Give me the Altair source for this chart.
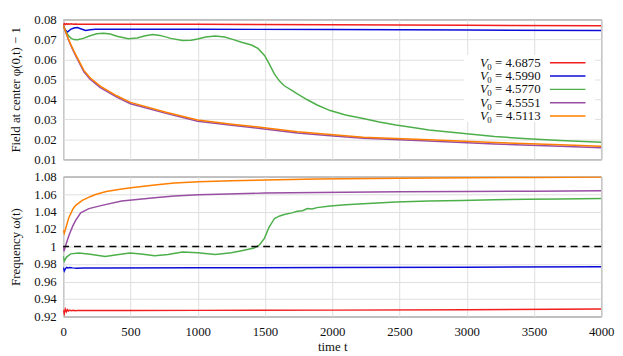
import altair as alt
import pandas as pd

FONT = "Liberation Serif, Times New Roman, DejaVu Serif, serif"
V0 = ["4.6875", "4.5990", "4.5770", "4.5551", "4.5113"]
COLORS = ["#f21d1d", "#0c0cd9", "#4daf4a", "#984ea3", "#ff7f00"]

X_TICKS = [0, 500, 1000, 1500, 2000, 2500, 3000, 3500, 4000]
PHI_TICKS = [0.01, 0.02, 0.03, 0.04, 0.05, 0.06, 0.07, 0.08]
OMEGA_TICKS = [0.92, 0.94, 0.96, 0.98, 1.0, 1.02, 1.04, 1.06, 1.08]

# ---- top panel: field at center phi(0,t) - 1 ----
t_phi_red = [0, 8, 16, 24, 32, 40, 50, 60, 75, 90, 110, 150, 300, 1000, 2000, 3000, 4000]
phi_red = [0.0772, 0.0779, 0.0774, 0.0779, 0.0775, 0.0778, 0.0776, 0.0778, 0.0776, 0.0777,
           0.0776, 0.0776, 0.0776, 0.0776, 0.0773, 0.0771, 0.0768]

t_phi_blue = [0, 15, 32, 55, 80, 105, 135, 166, 200, 240, 300, 500, 1000, 2000, 3000, 4000]
phi_blue = [0.0772, 0.0748, 0.0737, 0.0750, 0.0757, 0.0759, 0.0752, 0.0745, 0.0748, 0.0751,
            0.0751, 0.0751, 0.0751, 0.0749, 0.0747, 0.0744]

t_phi_green = [0, 20, 40, 60, 81, 105, 150, 200, 250, 300, 350, 400, 484, 550, 610, 667, 720,
               800, 887, 950, 1000, 1060, 1131, 1200, 1260, 1326, 1400, 1448, 1497, 1530, 1571,
               1610, 1644, 1700, 1741, 1815, 1888, 1985, 2100, 2230, 2350, 2474, 2600, 2719,
               2850, 2963, 3207, 3451, 3695, 4000]
phi_green = [0.0772, 0.0740, 0.0718, 0.0705, 0.0699, 0.0698, 0.0705, 0.0718, 0.0728, 0.0731,
             0.0727, 0.0716, 0.0703, 0.0707, 0.0718, 0.0724, 0.0720, 0.0705, 0.0695, 0.0696,
             0.0702, 0.0712, 0.0717, 0.0712, 0.0700, 0.0686, 0.0672, 0.0655, 0.0620, 0.0580,
             0.0526, 0.0490, 0.0468, 0.0445, 0.0427, 0.0398, 0.0372, 0.0344, 0.0322, 0.0304,
             0.0287, 0.0272, 0.0259, 0.0247, 0.0238, 0.0231, 0.0214, 0.0203, 0.0194, 0.0186]

t_phi_purple = [0, 20, 40, 60, 80, 100, 154, 200, 276, 398, 500, 764, 1000, 1253, 1449, 1741,
                1985, 2230, 2719, 3207, 3695, 4000]
phi_purple = [0.0772, 0.0733, 0.0697, 0.0665, 0.0636, 0.0608, 0.0538, 0.0501, 0.0459, 0.0411,
              0.0378, 0.0330, 0.0291, 0.0270, 0.0256, 0.0232, 0.0218, 0.0205, 0.0192, 0.0177,
              0.0165, 0.0158]

t_phi_orange = [0, 20, 40, 60, 80, 100, 154, 200, 276, 398, 500, 764, 1000, 1253, 1449, 1741,
                1985, 2230, 2719, 3207, 3695, 4000]
phi_orange = [0.0772, 0.0735, 0.0700, 0.0669, 0.0641, 0.0615, 0.0545, 0.0508, 0.0466, 0.0418,
              0.0385, 0.0336, 0.0297, 0.0276, 0.0262, 0.0238, 0.0224, 0.0211, 0.0198, 0.0184,
              0.0173, 0.0165]

# ---- bottom panel: frequency omega(t) ----
t_om_red = [0, 8, 16, 24, 32, 40, 50, 60, 75, 90, 110, 150, 500, 1000, 2000, 3000, 4000]
om_red = [0.9275, 0.9232, 0.9285, 0.9255, 0.9278, 0.9262, 0.9274, 0.9265, 0.9272, 0.9267,
          0.9270, 0.9268, 0.9268, 0.9270, 0.9273, 0.9277, 0.9285]

t_om_blue = [0, 8, 16, 25, 35, 50, 70, 100, 150, 300, 1000, 2000, 3000, 4000]
om_blue = [0.9760, 0.9720, 0.9745, 0.9762, 0.9755, 0.9760, 0.9756, 0.9752, 0.9754, 0.9755,
           0.9757, 0.9760, 0.9764, 0.9769]

t_om_green = [0, 8, 25, 56, 117, 200, 313, 400, 496, 580, 680, 780, 887, 1000, 1131, 1250,
              1326, 1420, 1460, 1497, 1530, 1571, 1610, 1644, 1700, 1741, 1780, 1815, 1850,
              1888, 1985, 2100, 2230, 2474, 2719, 2963, 3207, 3451, 3695, 4000]
om_green = [0.9890, 0.9833, 0.9880, 0.9916, 0.9927, 0.9912, 0.9885, 0.9905, 0.9925, 0.9915,
            0.9895, 0.9910, 0.9938, 0.9930, 0.9908, 0.9930, 0.9953, 0.9983, 1.0020, 1.0096,
            1.0220, 1.0321, 1.0350, 1.0366, 1.0385, 1.0403, 1.0410, 1.0434, 1.0430, 1.0445,
            1.0464, 1.0478, 1.0490, 1.0509, 1.0520, 1.0527, 1.0535, 1.0540, 1.0543, 1.0550]

t_om_purple = [0, 6, 20, 44, 70, 93, 130, 191, 289, 435, 680, 826, 1008, 1497, 1888, 2500,
               3000, 3500, 4000]
om_purple = [1.0000, 0.9946, 1.0020, 1.0133, 1.0230, 1.0300, 1.0385, 1.0434, 1.0471, 1.0520,
             1.0558, 1.0577, 1.0592, 1.0611, 1.0618, 1.0626, 1.0630, 1.0633, 1.0638]

t_om_orange = [0, 8, 25, 40, 56, 75, 93, 142, 200, 240, 320, 435, 520, 680, 826, 1008, 1250,
               1497, 1888, 2500, 3000, 3500, 4000]
om_orange = [1.0189, 1.0152, 1.0240, 1.0320, 1.0377, 1.0435, 1.0471, 1.0527, 1.0570, 1.0595,
             1.0630, 1.0659, 1.0675, 1.0704, 1.0727, 1.0742, 1.0752, 1.0760, 1.0772, 1.0782,
             1.0786, 1.0790, 1.0794]


def long_df(pairs):
    frames = []
    for name, (ts, vs) in zip(V0, pairs):
        frames.append(pd.DataFrame({"t": ts, "v": vs, "series": name}))
    return pd.concat(frames, ignore_index=True)


df_phi = long_df([(t_phi_red, phi_red), (t_phi_blue, phi_blue), (t_phi_green, phi_green),
                  (t_phi_purple, phi_purple), (t_phi_orange, phi_orange)])
df_om = long_df([(t_om_red, om_red), (t_om_blue, om_blue), (t_om_green, om_green),
                 (t_om_purple, om_purple), (t_om_orange, om_orange)])
df_leg = pd.DataFrame({"series": V0, "rank": list(range(len(V0)))})

W, H = 546, 142
color = alt.Color("series:N", scale=alt.Scale(domain=V0, range=COLORS), legend=None)
xscale = alt.Scale(domain=[0, 4000], nice=False, zero=False)

# ---- top ----
y_phi = alt.Scale(domain=[0.01, 0.08], nice=False, zero=False)
y_phi_axis = alt.Axis(values=PHI_TICKS, format=".2f",
                      title="Field at center φ(0,t) − 1", titlePadding=12)
top_lines = alt.Chart(df_phi).mark_line(strokeWidth=1.5, clip=True).encode(
    x=alt.X("t:Q", scale=xscale,
            axis=alt.Axis(values=X_TICKS, labels=False, title=None)),
    y=alt.Y("v:Q", scale=y_phi, axis=y_phi_axis),
    color=color,
)

leg_bg = alt.Chart(alt.Data(values=[{"k": 1}])).mark_rect(fill="white", stroke=None).encode(
    x=alt.value(407), x2=alt.value(540), y=alt.value(36), y2=alt.value(104)
)

leg_base = alt.Chart(df_leg).transform_calculate(
    ly="0.08 - (44 + datum.rank * 13.5) / 142 * 0.07",
    lab="'= ' + datum.series",
)
leg_y = alt.Y("ly:Q", scale=y_phi, axis=y_phi_axis)
leg_rules = leg_base.mark_rule(strokeWidth=1.5).encode(
    x=alt.value(494), x2=alt.value(530), y=leg_y, color=color
)
leg_num = leg_base.mark_text(align="right", baseline="middle", font=FONT, fontSize=13,
                             color="#111").encode(x=alt.value(484.5), y=leg_y, text="lab:N")
leg_sub = leg_base.mark_text(align="right", baseline="middle", font=FONT, fontSize=9, dy=4,
                             color="#111").encode(x=alt.value(434.8), y=leg_y,
                                                  text=alt.value("0"))
leg_v = leg_base.mark_text(align="right", baseline="middle", font=FONT, fontSize=13,
                           fontStyle="italic", color="#111").encode(
    x=alt.value(431), y=leg_y, text=alt.value("V"))

top = alt.layer(top_lines, leg_bg, leg_rules, leg_num, leg_sub, leg_v).properties(
    width=W, height=H)

# ---- bottom ----
y_om = alt.Scale(domain=[0.92, 1.08], nice=False, zero=False)
y_om_axis = alt.Axis(values=OMEGA_TICKS,
                     labelExpr="datum.value == 1 ? '1' : format(datum.value, '.2f')",
                     title="Frequency ω(t)", titlePadding=12)
bot_lines = alt.Chart(df_om).mark_line(strokeWidth=1.5, clip=True).encode(
    x=alt.X("t:Q", scale=xscale,
            axis=alt.Axis(values=X_TICKS, format="d", title="time t",
                          labelPadding=9, titlePadding=2)),
    y=alt.Y("v:Q", scale=y_om, axis=y_om_axis),
    color=color,
)
unity = alt.Chart(pd.DataFrame({"y": [1.0]})).mark_rule(
    color="black", strokeWidth=1.5, strokeDash=[7, 5]).encode(
    y=alt.Y("y:Q", scale=y_om, axis=y_om_axis))

bottom = alt.layer(bot_lines, unity).properties(width=W, height=H)

chart = alt.vconcat(top, bottom, spacing=17.5, bounds="flush").properties(
    padding={"left": 0, "top": 2, "right": 0, "bottom": 0}
).configure_axis(
    labelFont=FONT, titleFont=FONT, labelFontSize=13, titleFontSize=13,
    titleFontWeight="normal", labelColor="#111", titleColor="#111",
    gridColor="#dedede", gridWidth=1, domain=False, ticks=False, labelPadding=7,
    labelOverlap=False, labelFlush=False, labelBound=False,
).configure_view(stroke="#444", strokeWidth=1)

chart.save("out.html", embed_options={"renderer": "svg", "actions": False})
